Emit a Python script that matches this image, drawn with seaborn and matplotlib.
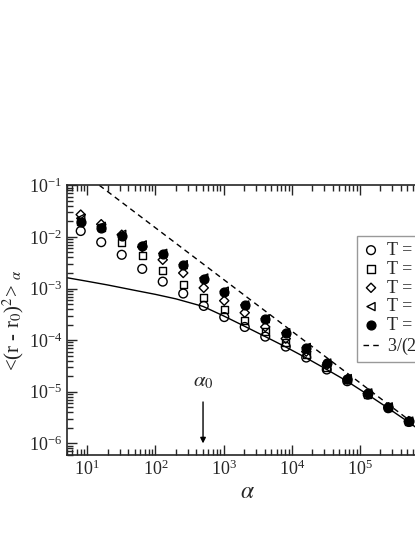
import numpy as np
import pandas as pd
import matplotlib
matplotlib.use('Agg')
import matplotlib.pyplot as plt
import seaborn as sns
from matplotlib.ticker import LogLocator, NullFormatter

# data
alpha = [8, 16, 32, 64, 128, 256, 512, 1024, 2048, 4096, 8192,
         16384, 32768, 65536, 131072, 262144, 524288]

msd_circle = [0.013, 0.0079, 0.0045, 0.0024, 0.00136, 0.00080, 0.00046, 0.00028, 0.00018,
              0.000117, 7.5e-5, 4.6e-5, 2.7e-5, 1.6e-5, 8.8e-6, 4.8e-6, 2.6e-6]
msd_square = [0.020, 0.015, 0.0079, 0.0043, 0.0022, 0.00118, 0.00066, 0.00039, 0.00024,
              0.000146, 8.9e-5, 5.2e-5, 3.0e-5, 1.7e-5, 9.0e-6, 4.9e-6, 2.65e-6]
msd_diamond = [0.027, 0.0176, 0.011, 0.0064, 0.0036, 0.0020, 0.00103, 0.00058, 0.00034,
               0.00018, 0.000107, 6.0e-5, 3.3e-5, 1.75e-5, 9.3e-6, 5.0e-6, 2.7e-6]
msd_triangle = [0.023, 0.016, 0.0112, 0.0070, 0.0048, 0.0029, 0.0016, 0.00089, 0.00048,
                0.00026, 0.000139, 7.2e-5, 3.6e-5, 1.8e-5, 9.5e-6, 5.1e-6, 2.7e-6]
msd_filled = [0.019, 0.0148, 0.0105, 0.0068, 0.0046, 0.0028, 0.00155, 0.00087, 0.00047,
              0.000255, 0.000137, 7.1e-5, 3.6e-5, 1.8e-5, 9.4e-6, 5.0e-6, 2.7e-6]

# solid curve, read point by point
solid_alpha = [5, 10, 20, 50, 100, 200, 500, 1000, 2000, 4000, 8000,
               16000, 32000, 64000, 128000, 256000, 512000, 1000000]
solid_msd = [1.62e-3, 1.38e-3, 1.17e-3, 9.2e-4, 7.7e-4, 6.3e-4, 4.5e-4, 2.95e-4, 1.88e-4,
             1.19e-4, 7.5e-5, 4.6e-5, 2.75e-5, 1.62e-5, 9.0e-6, 4.9e-6, 2.62e-6, 1.4e-6]

# dashed asymptote 3/(2 alpha), end points
dash_alpha = [15, 1000000]
dash_msd = [0.1, 1.5e-6]

alpha0 = 500

series_labels = ['T = 0.10', 'T = 0.20', 'T = 0.30', 'T = 0.40', 'T = 0.50']
dash_label = r'3/(2$\alpha$)'

sns.set_style('ticks')
plt.rcParams['font.family'] = ['Liberation Serif', 'DejaVu Serif']
plt.rcParams['mathtext.fontset'] = 'stix'

fig = plt.figure(figsize=(4.15, 5.37), dpi=100)
ax = fig.add_axes([0.161, 0.153, 0.87, 0.502])

sns.lineplot(x=solid_alpha, y=solid_msd, color='k', lw=1.0, estimator=None,
             sort=False, ax=ax)
sns.lineplot(x=dash_alpha, y=dash_msd, color='k', lw=1.0, estimator=None,
             sort=False, ax=ax, label=dash_label)
ax.lines[-1].set_dashes((4, 3))

styles = [('o', 'none'), ('s', 'none'), ('D', 'none'), ('<', 'none'), ('o', 'k')]
sizes = [40, 26, 22, 34, 40]
for vals, lab, (m, fc), s in zip([msd_circle, msd_square, msd_diamond, msd_triangle, msd_filled],
                                 series_labels, styles, sizes):
    sns.scatterplot(x=alpha, y=vals, marker=m, s=s, facecolor=fc, edgecolor='k',
                    linewidth=1.0, ax=ax, label=lab, legend=False, zorder=3)

ax.set_xscale('log')
ax.set_yscale('log')
ax.set_xlim(5, 1e6)
ax.set_ylim(6e-7, 0.1)

ax.xaxis.set_major_locator(LogLocator(base=10, numticks=12))
ax.xaxis.set_minor_locator(LogLocator(base=10, subs=np.arange(2, 10), numticks=12))
ax.yaxis.set_minor_locator(LogLocator(base=10, subs=np.arange(2, 10), numticks=12))
ax.xaxis.set_minor_formatter(NullFormatter())
ax.yaxis.set_minor_formatter(NullFormatter())
ax.tick_params(which='both', direction='in', top=True, right=True, labelsize=13, width=1)
ax.tick_params(which='major', length=7)
ax.tick_params(which='minor', length=4)
for sp in ax.spines.values():
    sp.set_linewidth(1.2)

ax.set_xlabel(r'$\alpha$', fontsize=17, labelpad=2)
ax.set_ylabel(r'<(r - r$_0$)$^2$> $_\alpha$', fontsize=15, labelpad=2)

ax.annotate(r'$\alpha_0$', xy=(alpha0, 1e-6), xytext=(alpha0, 1.0e-5),
            ha='center', va='bottom', fontsize=15,
            arrowprops=dict(arrowstyle='-|>', color='k', lw=1.0, mutation_scale=8,
                            shrinkA=5, shrinkB=0))

# legend: markers first, dashed line last
hs, ls = ax.get_legend_handles_labels()
order = series_labels + [dash_label]
hmap = dict(zip(ls, hs))
leg = ax.legend([hmap[l] for l in order], order, loc='upper left',
                bbox_to_anchor=(0.805, 0.81), borderaxespad=0, fontsize=13, frameon=True,
                fancybox=False, edgecolor='#808080', handlelength=0.9,
                handletextpad=0.45, labelspacing=0.1, borderpad=0.3)
leg.get_frame().set_linewidth(1.0)

fig.savefig('out.png', dpi=100)
